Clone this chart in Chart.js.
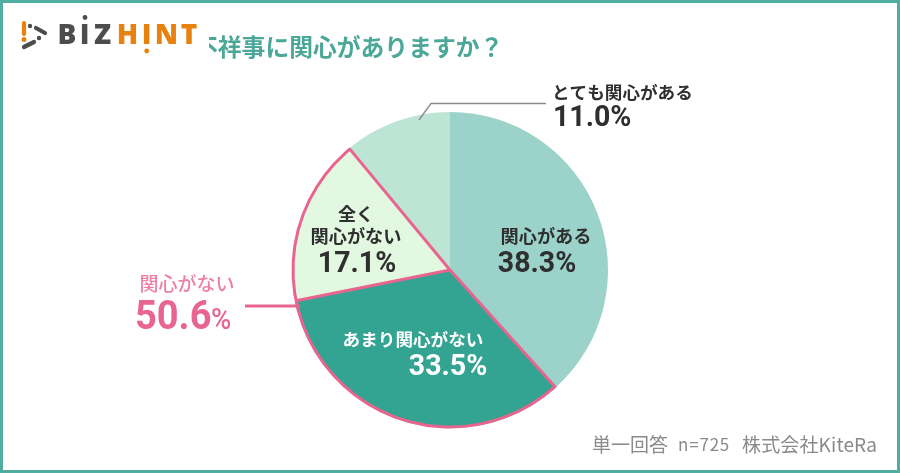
<!DOCTYPE html>
<html lang="ja"><head><meta charset="utf-8">
<style>html,body{margin:0;padding:0;background:#fff;overflow:hidden}
#w{position:relative;width:900px;height:473px}
#f{position:absolute;inset:0;box-sizing:border-box;border:3px solid #4fae9f;pointer-events:none}
canvas{display:block}</style>
<script src="https://cdn.jsdelivr.net/npm/chart.js@4"></script></head>
<body><div id="w"><canvas id="c" width="900" height="473"></canvas><div id="f"></div></div>
<script>
const categories=['関心がある','あまり関心がない','全く関心がない','とても関心がある'];
const values=[38.3,33.5,17.1,11.0];
const sliceColors=['#9bd2ca','#33a392','#e2f8e0','#bde5d5'];
const outlinedSlices=[1,2];
const titleText='不祥事に関心がありますか？';
const JP='"Noto Sans CJK JP","Noto Sans",sans-serif';
const NUM='Roboto,"Noto Sans",sans-serif';
const pink='#e8658f';
function t(ctx,s,x,y,size,color,weight,align,fam,sp){
  ctx.font=(weight||700)+' '+size+'px '+(fam||JP);ctx.letterSpacing=(sp||0)+'px';ctx.fillStyle=color;ctx.textAlign=align||'center';ctx.textBaseline='middle';ctx.fillText(s,x,y);ctx.letterSpacing='0px';
}
function n(ctx,s,x,y,size,color,weight,align){
  ctx.save();ctx.translate(x,y+2);ctx.scale(0.95,1);t(ctx,s,0,0,size,color,weight||700,align||'center',NUM);ctx.restore();
}
const overlay={id:'overlay',afterDatasetsDraw(chart){
  const ctx=chart.ctx,meta=chart.getDatasetMeta(0).data;
  const a=meta[outlinedSlices[0]],b=meta[outlinedSlices[outlinedSlices.length-1]];
  const cx=a.x,cy=a.y,r=a.outerRadius;
  ctx.save();
  ctx.strokeStyle=pink;ctx.lineWidth=3;ctx.lineJoin='round';
  ctx.beginPath();ctx.moveTo(cx,cy);ctx.arc(cx,cy,r-1,a.startAngle,b.endAngle);ctx.closePath();ctx.stroke();
  ctx.beginPath();ctx.moveTo(cx,cy);
  ctx.lineTo(cx+(r-1)*Math.cos(b.startAngle),cy+(r-1)*Math.sin(b.startAngle));ctx.stroke();
  ctx.beginPath();ctx.moveTo(245,306);ctx.lineTo(cx-r+8,306);ctx.stroke();
  ctx.strokeStyle='#8a8a8a';ctx.lineWidth=1.3;
  ctx.beginPath();ctx.moveTo(419,120);ctx.lineTo(431,103.5);ctx.lineTo(546,103.5);ctx.stroke();
  const dark='#2f2f2f';
  t(ctx,categories[0],546,236,18.2,dark);
  n(ctx,values[0].toFixed(1)+'%',537,262,30,dark);
  t(ctx,'全く',356,214,18,dark);
  t(ctx,'関心がない',356,236,18.2,dark);
  n(ctx,values[2].toFixed(1)+'%',357,262,30,dark);
  t(ctx,categories[1],413,339,17.6,'#fff');
  n(ctx,values[1].toFixed(1)+'%',448,365,30,'#fff');
  t(ctx,categories[3],552,92,17.6,dark,700,'left');
  n(ctx,values[3].toFixed(1)+'%',553,116,30,dark,700,'left');
  t(ctx,'関心がない',187,284,19,'#ee7fa3',500);
  n(ctx,'50.6',135,317,40,pink,700,'left');
  n(ctx,'%',211,320,29,pink,500,'left');
  ctx.save();ctx.beginPath();ctx.rect(209,20,320,60);ctx.clip();
  t(ctx,titleText,194,47,23.8,'#4ba899',700,'left');
  ctx.restore();
  t(ctx,'単一回答',592,445,19,'#8a8a8a',400,'left');
  t(ctx,'n=725',678,445,17,'#8a8a8a',400,'left',JP,0.8);
  t(ctx,'株式会社KiteRa',742,445,19,'#8a8a8a',400,'left',JP,0.15);
  const LF='"Open Sans","Liberation Sans",sans-serif';
  const L=(s,x,c)=>{ctx.font='800 28px '+LF;ctx.fillStyle=c;ctx.textAlign='center';ctx.textBaseline='alphabetic';ctx.fillText(s,x,44);};
  const gray='#4d4d4d',or='#e8820f';
  L('B',67,gray);L('I',84.5,gray);L('Z',102.5,gray);
  L('H',127.5,or);L('I',146.5,or);L('N',166.5,or);L('T',189,or);
  ctx.fillStyle=gray;ctx.beginPath();ctx.arc(85,17.5,2.4,0,7);ctx.fill();
  ctx.fillStyle=or;ctx.beginPath();ctx.arc(146.7,51,2.4,0,7);ctx.fill();
  ctx.lineCap='round';ctx.lineWidth=4.2;
  ctx.strokeStyle=or;ctx.beginPath();ctx.moveTo(24,23);ctx.lineTo(24,34);ctx.stroke();
  ctx.fillStyle=or;ctx.beginPath();ctx.arc(24,39.5,2.5,0,7);ctx.fill();
  ctx.strokeStyle=gray;ctx.beginPath();ctx.moveTo(36,28);ctx.lineTo(45,33);ctx.stroke();
  ctx.beginPath();ctx.moveTo(24,47);ctx.lineTo(34,42);ctx.stroke();
  ctx.fillStyle=gray;ctx.beginPath();ctx.arc(30,26,2.2,0,7);ctx.fill();
  ctx.beginPath();ctx.arc(39,38,2.2,0,7);ctx.fill();
  ctx.restore();
}};
new Chart(document.getElementById('c'),{type:'pie',
  data:{labels:categories,datasets:[{data:values,backgroundColor:sliceColors,borderWidth:0}]},
  options:{responsive:false,animation:false,devicePixelRatio:1,
    layout:{padding:{top:112,bottom:45,left:292,right:292}},
    plugins:{legend:{display:false},tooltip:{enabled:false},title:{display:false}}},
  plugins:[overlay]});
</script></body></html>
